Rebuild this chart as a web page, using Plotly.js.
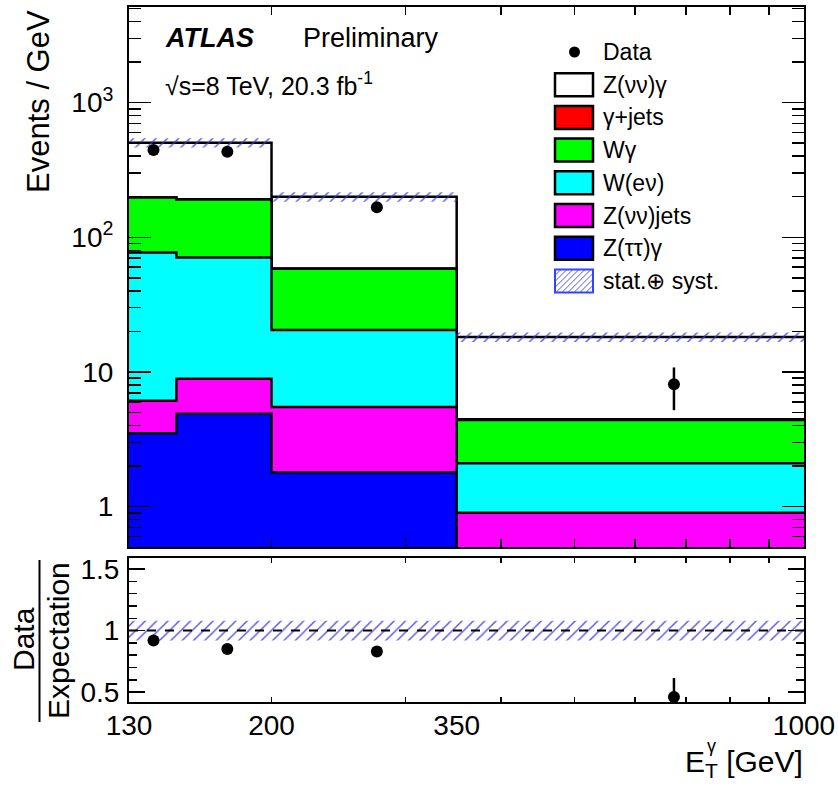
<!DOCTYPE html>
<html>
<head>
<meta charset="utf-8">
<script src="https://cdn.plot.ly/plotly-3.0.1.min.js"></script>
<style>
  html, body { margin: 0; padding: 0; background: #ffffff; }
  #chart { width: 838px; height: 786px; }
</style>
</head>
<body>
<div id="chart"></div>
<script>
// Photon E_T bin edges [GeV] and bin centres
const binEdges = [130, 150, 200, 350, 1000];
const binCenters = [140, 175, 275, 675];

// Expected events / GeV for each process, one value per bin
const ZttGamma  = [3.5, 4.9, 1.8, 0.3];
const ZnnJets   = [2.6, 4.0, 3.7, 0.6];
const WenuFake  = [71, 62, 15, 1.2];
const WGamma    = [120, 120, 38, 2.3];
const GammaJets = [0.5, 0.5, 0.2, 0.05];
const ZnnGamma  = [306, 313, 141, 13.7];

// Relative total uncertainty on the expectation (stat. ⊕ syst.)
const relUnc = [0.08, 0.08, 0.08, 0.08];

// Observed data, events / GeV
const dataVals  = [445, 432, 167, 8.1];
const dataErrUp = [4, 4, 3, 2.7];
const dataErrDn = [4, 4, 3, 2.9];

// Data / expectation
const ratioVals  = [0.92, 0.85, 0.83, 0.46];
const ratioErrUp = [0.02, 0.02, 0.03, 0.155];
const ratioErrDn = [0.02, 0.02, 0.03, 0.155];

// Tick labels
const yTickVals = [1, 10, 100, 1000];
const yTickText = ['1', '10', '10<sup>2</sup>', '10<sup>3</sup>'];
const rTickVals = [0.5, 1, 1.5];
const rTickText = ['0.5', '1', '1.5'];
const xTickVals = [130, 200, 350, 1000];
const xTickText = ['130', '200', '350', '1000'];
const xInnerTicks = [200, 300, 400, 500, 600, 700, 800, 900];

const FONT = 'Liberation Sans, Arial, Helvetica, sans-serif';
const HATCH = 'rgba(55,55,225,0.85)';

// Stacking order, bottom to top
const processes = [
  { name: 'Z(ττ)γ',    vals: ZttGamma,  color: '#0000ff' },
  { name: 'Z(νν)jets', vals: ZnnJets,   color: '#ff00ff' },
  { name: 'W(eν)',     vals: WenuFake,  color: '#00ffff' },
  { name: 'Wγ',        vals: WGamma,    color: '#00ff00' },
  { name: 'γ+jets',    vals: GammaJets, color: '#ff0000' },
  { name: 'Z(νν)γ',    vals: ZnnGamma,  color: '#ffffff' }
];

// repeat the last bin so an 'hv' line closes at the upper edge
const step = v => v.concat([v[v.length - 1]]);

// cumulative sums for the stack
const cumulative = [];
let running = binCenters.map(() => 0);
processes.forEach(p => {
  running = running.map((r, i) => r + p.vals[i]);
  cumulative.push(running.slice());
});
const total = cumulative[cumulative.length - 1];

const traces = [];

// Stack: draw the tallest first so lower contributions sit on top
for (let k = processes.length - 1; k >= 0; k--) {
  traces.push({
    type: 'scatter', mode: 'lines', xaxis: 'x', yaxis: 'y',
    x: binEdges, y: step(cumulative[k]),
    line: { shape: 'hv', color: '#000000', width: 2.5 },
    fill: 'tozeroy', fillcolor: processes[k].color,
    hoverinfo: 'skip', showlegend: false
  });
}

// Uncertainty band on the total
traces.push({
  type: 'scatter', mode: 'lines', xaxis: 'x', yaxis: 'y',
  x: binEdges, y: step(total.map((t, i) => t * (1 - relUnc[i]))),
  line: { shape: 'hv', width: 0, color: 'rgba(0,0,0,0)' },
  hoverinfo: 'skip', showlegend: false
});
traces.push({
  type: 'scatter', mode: 'lines', xaxis: 'x', yaxis: 'y',
  x: binEdges, y: step(total.map((t, i) => t * (1 + relUnc[i]))),
  line: { shape: 'hv', width: 0, color: 'rgba(0,0,0,0)' },
  fill: 'tonexty', fillcolor: 'rgba(0,0,0,0)',
  fillpattern: { shape: '/', fgcolor: HATCH, bgcolor: 'rgba(0,0,0,0)', size: 8, solidity: 0.18 },
  hoverinfo: 'skip', showlegend: false
});

// Data points
traces.push({
  type: 'scatter', mode: 'markers', xaxis: 'x', yaxis: 'y',
  x: binCenters, y: dataVals,
  marker: { color: '#000000', size: 12 },
  error_y: { type: 'data', array: dataErrUp, arrayminus: dataErrDn, color: '#000000', thickness: 2.5, width: 0 },
  hoverinfo: 'skip', showlegend: false
});

// Ratio panel: band, unity line, data / expectation
traces.push({
  type: 'scatter', mode: 'lines', xaxis: 'x2', yaxis: 'y2',
  x: binEdges, y: step(relUnc.map(u => 1 - u)),
  line: { shape: 'hv', width: 0, color: 'rgba(0,0,0,0)' },
  hoverinfo: 'skip', showlegend: false
});
traces.push({
  type: 'scatter', mode: 'lines', xaxis: 'x2', yaxis: 'y2',
  x: binEdges, y: step(relUnc.map(u => 1 + u)),
  line: { shape: 'hv', width: 0, color: 'rgba(0,0,0,0)' },
  fill: 'tonexty', fillcolor: 'rgba(0,0,0,0)',
  fillpattern: { shape: '/', fgcolor: HATCH, bgcolor: 'rgba(0,0,0,0)', size: 8, solidity: 0.18 },
  hoverinfo: 'skip', showlegend: false
});
traces.push({
  type: 'scatter', mode: 'lines', xaxis: 'x2', yaxis: 'y2',
  x: [binEdges[0], binEdges[binEdges.length - 1]], y: [1, 1],
  line: { color: '#000000', width: 2, dash: 'dash' },
  hoverinfo: 'skip', showlegend: false
});
traces.push({
  type: 'scatter', mode: 'markers', xaxis: 'x2', yaxis: 'y2',
  x: binCenters, y: ratioVals,
  marker: { color: '#000000', size: 12 },
  error_y: { type: 'data', array: ratioErrUp, arrayminus: ratioErrDn, color: '#000000', thickness: 2.5, width: 0 },
  cliponaxis: true,
  hoverinfo: 'skip', showlegend: false
});

// Pixel -> paper helpers (plot area spans x 129..804, y 7..702)
const L = 129, R = 804, T = 7, B = 702;
const px = x => (x - L) / (R - L);
const py = y => (B - y) / (B - T);

// minor ticks on the log axis: 2..9 in each decade inside the range
const yMinor = [];
[0.1, 1, 10, 100, 1000].forEach(d => {
  for (let m = 2; m <= 9; m++) {
    const v = m * d;
    if (v >= 0.5 && v <= 5000) yMinor.push(v);
  }
});

const shapes = [];
const annotations = [];

// Hand-drawn legend
const legendRows = [
  { name: 'Data', kind: 'marker' },
  ...processes.slice().reverse().map(p => ({ name: p.name, kind: 'box', color: p.color })),
  { name: 'stat.⊕ syst.', kind: 'hatch' }
];
const rowY0 = 52, rowDy = 32.7, boxX0 = 555, boxX1 = 593, boxH = 23, textX = 601;
legendRows.forEach((row, i) => {
  const yc = rowY0 + i * rowDy;
  if (row.kind === 'marker') {
    shapes.push({ type: 'circle', xref: 'paper', yref: 'paper',
      x0: px(569), x1: px(580), y0: py(yc + 5.5), y1: py(yc - 5.5),
      fillcolor: '#000000', line: { color: '#000000', width: 0 } });
  } else if (row.kind === 'box') {
    shapes.push({ type: 'rect', xref: 'paper', yref: 'paper',
      x0: px(boxX0), x1: px(boxX1), y0: py(yc + boxH / 2), y1: py(yc - boxH / 2),
      fillcolor: row.color, line: { color: '#000000', width: 2.5 } });
  } else {
    const yb = yc + boxH / 2, yt = yc - boxH / 2;
    for (let x0 = boxX0 - boxH; x0 < boxX1; x0 += 6) {
      const t0 = Math.max(0, boxX0 - x0), t1 = Math.min(boxH, boxX1 - x0);
      if (t1 <= t0) continue;
      shapes.push({ type: 'line', xref: 'paper', yref: 'paper',
        x0: px(x0 + t0), y0: py(yb - t0), x1: px(x0 + t1), y1: py(yb - t1),
        line: { color: HATCH, width: 1 } });
    }
    shapes.push({ type: 'rect', xref: 'paper', yref: 'paper',
      x0: px(boxX0), x1: px(boxX1), y0: py(yb), y1: py(yt),
      fillcolor: 'rgba(0,0,0,0)', line: { color: '#3344ff', width: 2 } });
  }
  annotations.push({ xref: 'paper', yref: 'paper', x: px(textX), y: py(yc),
    xanchor: 'left', yanchor: 'middle', showarrow: false, text: row.name,
    font: { family: FONT, size: 23, color: '#000000' } });
});

// Experiment labels
annotations.push({ xref: 'paper', yref: 'paper', x: px(163), y: py(38), xanchor: 'left', yanchor: 'middle',
  showarrow: false, text: '<b><i>ATLAS</i></b>', font: { family: FONT, size: 27, color: '#000000' } });
annotations.push({ xref: 'paper', yref: 'paper', x: px(301), y: py(38), xanchor: 'left', yanchor: 'middle',
  showarrow: false, text: 'Preliminary', font: { family: FONT, size: 27, color: '#000000' } });
annotations.push({ xref: 'paper', yref: 'paper', x: px(163), y: py(84), xanchor: 'left', yanchor: 'middle',
  showarrow: false, text: '√s=8 TeV, 20.3 fb<sup>-1</sup>', font: { family: FONT, size: 25, color: '#000000' } });

// Axis titles
annotations.push({ xref: 'paper', yref: 'paper', x: px(38), y: py(102), xanchor: 'center', yanchor: 'middle',
  textangle: -90, showarrow: false, text: 'Events / GeV', font: { family: FONT, size: 31, color: '#000000' } });
annotations.push({ xref: 'paper', yref: 'paper', x: px(23), y: py(639), xanchor: 'center', yanchor: 'middle',
  textangle: -90, showarrow: false, text: 'Data', font: { family: FONT, size: 30, color: '#000000' } });
annotations.push({ xref: 'paper', yref: 'paper', x: px(58), y: py(641), xanchor: 'center', yanchor: 'middle',
  textangle: -90, showarrow: false, text: 'Expectation', font: { family: FONT, size: 30, color: '#000000' } });
shapes.push({ type: 'line', xref: 'paper', yref: 'paper', x0: px(39.5), x1: px(39.5), y0: py(560), y1: py(722),
  line: { color: '#000000', width: 2 } });
annotations.push({ xref: 'paper', yref: 'paper', x: px(805), y: py(763), xanchor: 'right', yanchor: 'middle',
  showarrow: false, text: 'E<sub>T</sub> [GeV]', font: { family: FONT, size: 30, color: '#000000' } });
annotations.push({ xref: 'paper', yref: 'paper', x: px(711), y: py(746), xanchor: 'center', yanchor: 'middle',
  showarrow: false, text: 'γ', font: { family: FONT, size: 18, color: '#000000' } });

const frame = { showline: true, linecolor: '#000000', linewidth: 2, mirror: 'allticks',
  showgrid: false, zeroline: false, tickcolor: '#000000', tickwidth: 1.5, ticks: 'inside' };

const layout = {
  width: 838, height: 786,
  margin: { l: L, r: 838 - R, t: T, b: 786 - B },
  paper_bgcolor: '#ffffff', plot_bgcolor: '#ffffff',
  showlegend: false,
  font: { family: FONT, size: 28, color: '#000000' },
  xaxis: Object.assign({}, frame, {
    type: 'log', range: [Math.log10(130), 3], anchor: 'y',
    tickmode: 'array', tickvals: xInnerTicks, ticklen: 8, showticklabels: false
  }),
  yaxis: Object.assign({}, frame, {
    type: 'log', range: [-0.3, 3.71], domain: [py(547), 1], anchor: 'x',
    tickmode: 'array', tickvals: yTickVals, ticktext: yTickText, ticklen: 22,
    ticklabelstandoff: 8,
    minor: { tickmode: 'array', tickvals: yMinor, ticklen: 12, ticks: 'inside', tickcolor: '#000000', tickwidth: 1.5 }
  }),
  xaxis2: Object.assign({}, frame, {
    type: 'log', range: [Math.log10(130), 3], anchor: 'y2',
    tickmode: 'array', tickvals: xTickVals, ticktext: xTickText, ticklen: 0,
    ticklabelstandoff: -3,
    minor: { tickmode: 'array', tickvals: xInnerTicks, ticklen: 5, ticks: 'inside', tickcolor: '#000000', tickwidth: 1.5 }
  }),
  yaxis2: Object.assign({}, frame, {
    type: 'linear', range: [0.42, 1.59], domain: [0, py(558)], anchor: 'x2',
    tickmode: 'array', tickvals: rTickVals, ticktext: rTickText, ticklen: 16,
    ticklabelstandoff: 2,
    minor: { tickmode: 'linear', tick0: 0, dtick: 0.1, ticklen: 8, ticks: 'inside', tickcolor: '#000000', tickwidth: 1.5 }
  }),
  shapes: shapes,
  annotations: annotations
};

Plotly.newPlot('chart', traces, layout, { staticPlot: true, displayModeBar: false });
</script>
</body>
</html>
